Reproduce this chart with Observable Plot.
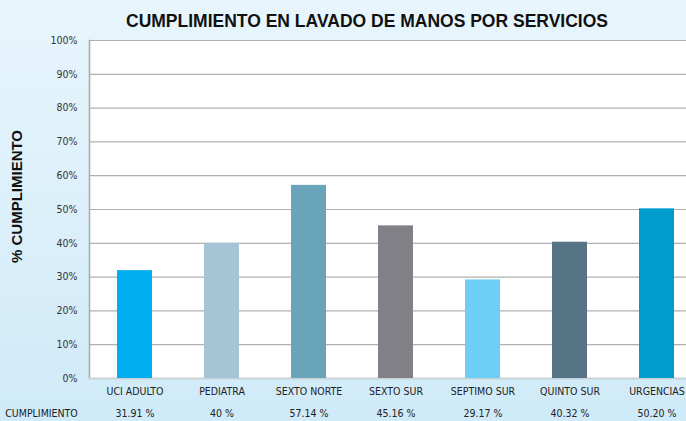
<!DOCTYPE html>
<html>
<head>
<meta charset="utf-8">
<script src="https://cdn.jsdelivr.net/npm/d3@7"></script>
<script src="https://cdn.jsdelivr.net/npm/@observablehq/plot@0.6"></script>
<style>
  html, body { margin: 0; padding: 0; }
  body {
    width: 686px; height: 421px; overflow: hidden;
    background: linear-gradient(to bottom, #e8f5fc 0%, #dcf0fa 50%, #cfeaf8 100%);
    font-family: "Liberation Sans", Arial, sans-serif;
  }
  #title {
    height: 30px; line-height: 30px; padding-top: 6px; box-sizing: border-box;
    text-align: center; font-weight: bold; font-size: 17.5px; color: #111;
    padding-left: 48px;
  }
  #chart svg { overflow: hidden; display: block; }
</style>
</head>
<body>
<div id="title">CUMPLIMIENTO EN LAVADO DE MANOS POR SERVICIOS</div>
<div id="chart"></div>
<script>
// Hand-washing compliance by hospital service
const servicios = ["UCI ADULTO", "PEDIATRA", "SEXTO NORTE", "SEXTO SUR", "SEPTIMO SUR", "QUINTO SUR", "URGENCIAS"];
const cumplimiento = [31.91, 40, 57.14, 45.16, 29.17, 40.32, 50.20];
const etiquetas = ["31.91 %", "40 %", "57.14 %", "45.16 %", "29.17 %", "40.32 %", "50.20 %"];
const colores = ["#00adef", "#a6c4d5", "#6aa4bb", "#808086", "#6dcff6", "#567486", "#009dcc"];
const yTicks = [0, 10, 20, 30, 40, 50, 60, 70, 80, 90, 100];

const rows = servicios.map((s, i) => ({servicio: s, valor: cumplimiento[i], etiqueta: etiquetas[i], color: colores[i]}));

const narrow = "'DejaVu Sans Condensed', 'Liberation Sans', Arial, sans-serif";

const chart = Plot.plot({
  width: 686,
  height: 391,
  marginTop: 10,
  marginBottom: 43,
  marginLeft: 89,
  marginRight: 0,
  style: {background: "transparent", fontFamily: narrow, fontSize: "10.5px", color: "#222"},
  x: {domain: servicios, range: [89, 701], paddingInner: 0.6, paddingOuter: 0.3, align: 0.5},
  y: {domain: [0, 100], label: null},
  marks: [
    Plot.frame({fill: "white", stroke: null}),
    Plot.gridY(yTicks, {stroke: "#b0b0b0", strokeOpacity: 1, strokeWidth: 1.2}),
    Plot.frame({anchor: "left", stroke: "#a8a8a8", strokeWidth: 1.5}),
    Plot.ruleY([0], {stroke: "#c9d2d6", strokeWidth: 2}),
    Plot.barY(rows, {x: "servicio", y: "valor", fill: "color"}),
    Plot.axisY(yTicks, {tickFormat: d => d + "%", tickSize: 0, tickPadding: 12, fill: "#333", fontSize: 10.5}),
    Plot.axisX({tickSize: 0, tickPadding: 9, fill: "#222", fontSize: 10.5, label: null}),
    Plot.text(rows, {x: "servicio", text: "etiqueta", frameAnchor: "bottom", dy: 38, fill: "#222", fontSize: 10.5}),
    Plot.text(["CUMPLIMIENTO"], {frameAnchor: "bottom-left", dx: -48, dy: 38, textAnchor: "middle", fill: "#222", fontSize: 10.5}),
    Plot.text(["% CUMPLIMIENTO"], {frameAnchor: "left", dx: -72, dy: -13, rotate: -90, textAnchor: "middle", fill: "#111", fontSize: 15, fontWeight: "bold", fontFamily: "'Liberation Sans', Arial, sans-serif"})
  ]
});
document.getElementById("chart").appendChild(chart);
</script>
</body>
</html>
